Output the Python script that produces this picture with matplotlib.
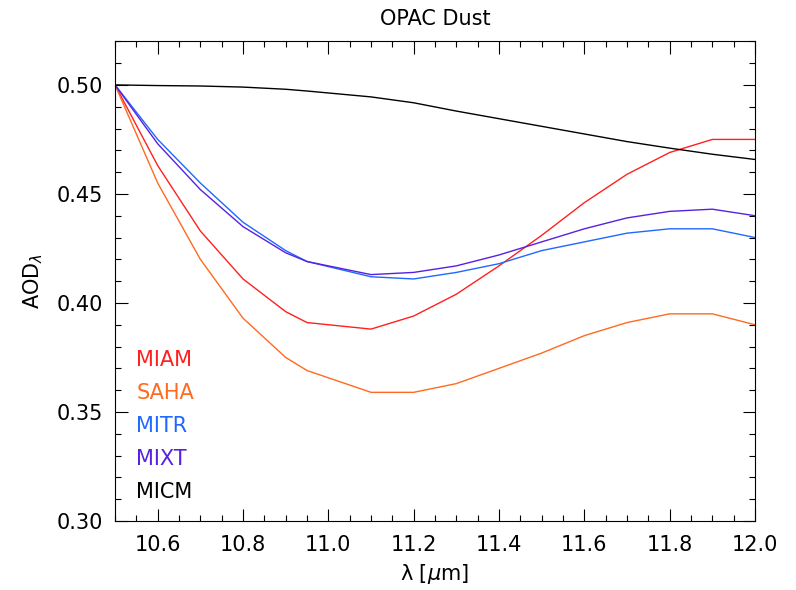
import matplotlib
matplotlib.use("Agg")
import matplotlib.pyplot as plt
from matplotlib.ticker import MultipleLocator, FormatStrFormatter

wl = [10.5, 10.6, 10.7, 10.8, 10.9, 10.95, 11.1, 11.2, 11.3, 11.4, 11.5, 11.6, 11.7, 11.8, 11.9, 12.0]

miam = [0.500, 0.463, 0.433, 0.411, 0.396, 0.391, 0.388, 0.394, 0.404, 0.417, 0.431, 0.446, 0.459, 0.469, 0.475, 0.475]
saha = [0.500, 0.455, 0.420, 0.393, 0.375, 0.369, 0.359, 0.359, 0.363, 0.370, 0.377, 0.385, 0.391, 0.395, 0.395, 0.390]
mitr = [0.500, 0.475, 0.455, 0.437, 0.424, 0.419, 0.412, 0.411, 0.414, 0.418, 0.424, 0.428, 0.432, 0.434, 0.434, 0.430]
mixt = [0.500, 0.473, 0.452, 0.435, 0.423, 0.419, 0.413, 0.414, 0.417, 0.422, 0.428, 0.434, 0.439, 0.442, 0.443, 0.440]
micm = [0.500, 0.4997, 0.4995, 0.4990, 0.4980, 0.4972, 0.4945, 0.4918, 0.4880, 0.4845, 0.4810, 0.4775, 0.4740, 0.4710, 0.4682, 0.4658]

names = ["MIAM", "SAHA", "MITR", "MIXT", "MICM"]
colors = ["#ff2020", "#ff6a20", "#2068ff", "#5820e0", "#000000"]
xticks = [10.6, 10.8, 11.0, 11.2, 11.4, 11.6, 11.8, 12.0]

fs = 15
plt.rcParams["font.family"] = "DejaVu Sans"
fig = plt.figure(figsize=(7.96, 5.90), dpi=100)
ax = fig.add_axes([0.1445, 0.117, 0.804, 0.813])

for ys, c in zip([miam, saha, mitr, mixt, micm], colors):
    ax.plot(wl, ys, color=c, lw=1.0)

ax.set_xlim(10.5, 12.0)
ax.set_ylim(0.30, 0.52)
ax.set_xticks(xticks)
ax.xaxis.set_minor_locator(MultipleLocator(0.05))
ax.yaxis.set_major_locator(MultipleLocator(0.05))
ax.yaxis.set_minor_locator(MultipleLocator(0.01))
ax.tick_params(which="both", direction="in", top=True, right=True, width=0.8, labelsize=fs)
ax.tick_params(axis="x", pad=10)
ax.tick_params(axis="y", pad=9)
ax.tick_params(which="major", length=9)
ax.tick_params(which="minor", length=4.5)
ax.yaxis.set_major_formatter(FormatStrFormatter("%.2f"))
ax.xaxis.set_major_formatter(FormatStrFormatter("%.1f"))
for s in ax.spines.values():
    s.set_linewidth(0.8)

ax.set_title("OPAC Dust", fontsize=fs, pad=12)
ax.set_xlabel("λ [$\\mu$m]", fontsize=fs, labelpad=5)
ax.set_ylabel("AOD$_\\lambda$", fontsize=fs, labelpad=8)

for i, (n, c) in enumerate(zip(names, colors)):
    ax.text(0.033, 0.3356 - i * 0.0688, n, color=c, fontsize=fs,
            transform=ax.transAxes, va="center", ha="left")

fig.savefig("out.png", dpi=100)
